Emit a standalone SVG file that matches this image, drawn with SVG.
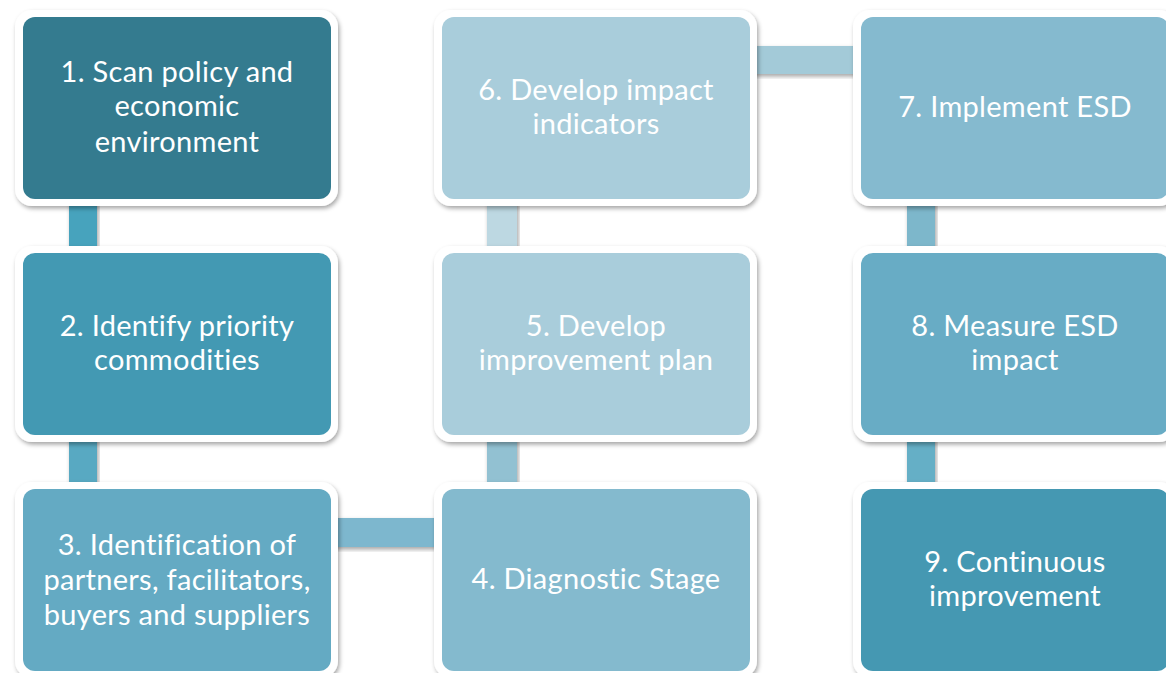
<svg xmlns="http://www.w3.org/2000/svg" width="1166" height="673" viewBox="0 0 1166 673">
  <defs>
    <filter id="shadow" x="-10%" y="-10%" width="120%" height="125%">
      <feDropShadow dx="1.5" dy="2.5" stdDeviation="2" flood-color="#000" flood-opacity="0.35"/>
    </filter>
  </defs>
  <style>
    .frame { fill: #ffffff; filter: url(#shadow); }
    .label { font-family: Lato, "Open Sans", "Liberation Sans", sans-serif; font-size: 29px; letter-spacing: 0.3px; fill: #ffffff; text-anchor: middle; font-variant-ligatures: none; font-feature-settings: "liga" 0, "clig" 0, "dlig" 0; }
    .link { filter: url(#shadow); }
  </style>
  <rect width="1166" height="673" fill="#ffffff"/>

  <!-- connectors between steps -->
  <g id="connectors">
    <rect class="link" x="69" y="200" width="28" height="56" fill="#46A3BD"/>
    <rect class="link" x="69" y="436" width="28" height="56" fill="#58A9C2"/>
    <rect class="link" x="330" y="518" width="115" height="29" fill="#7DB7CE"/>
    <rect class="link" x="487" y="436" width="30" height="56" fill="#92C1D2"/>
    <rect class="link" x="487" y="200" width="30" height="56" fill="#BDD8E2"/>
    <rect class="link" x="745" y="46" width="120" height="28" fill="#A3CAD8"/>
    <rect class="link" x="907" y="200" width="28" height="56" fill="#7DB7CB"/>
    <rect class="link" x="907" y="436" width="28" height="56" fill="#65AFC6"/>
  </g>

  <g id="step1">
    <rect class="frame" x="15" y="10" width="323" height="196" rx="17"/>
    <rect x="23" y="17" width="308" height="182" rx="12" fill="#347B8F"/>
    <text class="label" x="177" y="82">1. Scan policy and</text>
    <text class="label" x="177" y="116">economic</text>
    <text class="label" x="177" y="152">environment</text>
  </g>

  <g id="step2">
    <rect class="frame" x="15" y="246" width="323" height="196" rx="17"/>
    <rect x="23" y="253" width="308" height="182" rx="12" fill="#4399B3"/>
    <text class="label" x="177" y="336">2. Identify priority</text>
    <text class="label" x="177" y="370">commodities</text>
  </g>

  <g id="step3">
    <rect class="frame" x="15" y="482" width="323" height="196" rx="17"/>
    <rect x="23" y="489" width="308" height="182" rx="12" fill="#64AAC3"/>
    <text class="label" x="177" y="555">3. Identification of</text>
    <text class="label" x="177" y="590">partners, facilitators,</text>
    <text class="label" x="177" y="625">buyers and suppliers</text>
  </g>

  <g id="step4">
    <rect class="frame" x="434" y="482" width="323" height="196" rx="17"/>
    <rect x="442" y="489" width="308" height="182" rx="12" fill="#84BACE"/>
    <text class="label" x="596" y="589">4. Diagnostic Stage</text>
  </g>

  <g id="step5">
    <rect class="frame" x="434" y="246" width="323" height="196" rx="17"/>
    <rect x="442" y="253" width="308" height="182" rx="12" fill="#A9CDDB"/>
    <text class="label" x="596" y="336">5. Develop</text>
    <text class="label" x="596" y="370">improvement plan</text>
  </g>

  <g id="step6">
    <rect class="frame" x="434" y="10" width="323" height="196" rx="17"/>
    <rect x="442" y="17" width="308" height="182" rx="12" fill="#A9CDDB"/>
    <text class="label" x="596" y="100">6. Develop impact</text>
    <text class="label" x="596" y="134">indicators</text>
  </g>

  <g id="step7">
    <rect class="frame" x="853" y="10" width="323" height="196" rx="17"/>
    <rect x="861" y="17" width="308" height="182" rx="12" fill="#85BACF"/>
    <text class="label" x="1015" y="117">7. Implement ESD</text>
  </g>

  <g id="step8">
    <rect class="frame" x="853" y="246" width="323" height="196" rx="17"/>
    <rect x="861" y="253" width="308" height="182" rx="12" fill="#68ACC5"/>
    <text class="label" x="1015" y="336">8. Measure ESD</text>
    <text class="label" x="1015" y="370">impact</text>
  </g>

  <g id="step9">
    <rect class="frame" x="853" y="482" width="323" height="196" rx="17"/>
    <rect x="861" y="489" width="308" height="182" rx="12" fill="#4598B2"/>
    <text class="label" x="1015" y="572">9. Continuous</text>
    <text class="label" x="1015" y="606">improvement</text>
  </g>
</svg>
